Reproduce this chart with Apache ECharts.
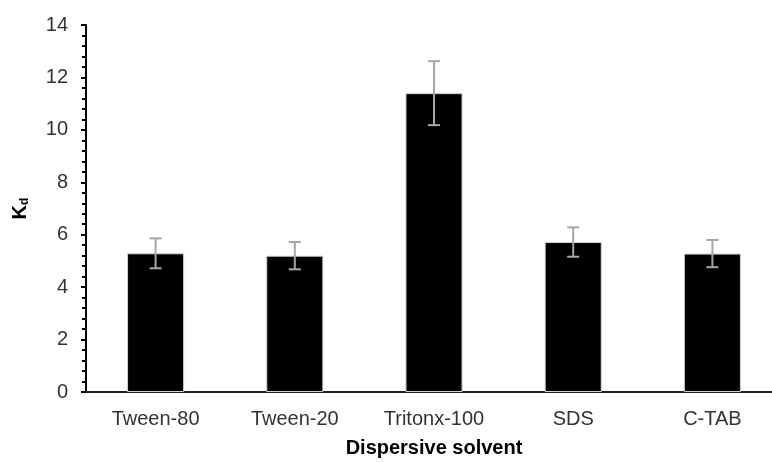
<!DOCTYPE html>
<html>
<head>
<meta charset="utf-8">
<script src="https://cdn.jsdelivr.net/npm/echarts@6/dist/echarts.min.js"></script>
<style>html,body{margin:0;padding:0;background:#fff}#c{width:772px;height:462px}</style>
</head>
<body>
<div id="c"></div>
<script>
var categories = ['Tween-80', 'Tween-20', 'Tritonx-100', 'SDS', 'C-TAB'];
var values = [5.29, 5.20, 11.40, 5.72, 5.28];
var errors = [0.57, 0.52, 1.22, 0.56, 0.52];
var yTicks = [0, 2, 4, 6, 8, 10, 12, 14];

var chart = echarts.init(document.getElementById('c'), null, {renderer: 'canvas'});
var font = 'Arial, "Liberation Sans", sans-serif';
var errData = categories.map(function (c, i) { return [i, values[i] - errors[i], values[i] + errors[i]]; });

chart.setOption({
  animation: false,
  grid: {left: 86, top: 25, width: 696, height: 367, containLabel: false, outerBoundsMode: 'none'},
  xAxis: {
    type: 'category',
    data: categories,
    name: 'Dispersive solvent',
    nameLocation: 'middle',
    nameGap: 46,
    nameTextStyle: {fontFamily: font, fontWeight: 'bold', fontSize: 20, color: '#000'},
    axisLine: {lineStyle: {color: '#222', width: 2}},
    axisTick: {show: false},
    axisLabel: {fontFamily: font, fontSize: 20, color: '#333', margin: 17},
    splitLine: {show: false}
  },
  yAxis: {
    type: 'value',
    min: yTicks[0],
    max: yTicks[yTicks.length - 1],
    interval: 2,
    name: '{k|K}{d|d}',
    nameLocation: 'middle',
    nameRotate: 90,
    nameGap: 56,
    nameTextStyle: {
      rich: {
        k: {fontFamily: font, fontWeight: 'bold', fontSize: 20, color: '#000', lineHeight: 20},
        d: {fontFamily: font, fontWeight: 'bold', fontSize: 12, color: '#000', lineHeight: 12, padding: [10, 0, 0, 0]}
      }
    },
    axisLine: {show: true, lineStyle: {color: '#000', width: 2}},
    axisTick: {show: true, inside: false, length: 5, lineStyle: {color: '#000', width: 2}},
    minorTick: {show: true, splitNumber: 5, length: 4, lineStyle: {color: '#000', width: 2}},
    axisLabel: {fontFamily: font, fontSize: 20, color: '#333', margin: 18},
    splitLine: {show: false}
  },
  series: [
    {
      type: 'bar',
      data: values,
      barWidth: '41%',
      itemStyle: {color: '#000', borderColor: '#d0d0d0', borderWidth: 1}
    },
    {
      type: 'custom',
      data: errData,
      z: 10,
      renderItem: function (params, api) {
        var x = api.value(0);
        var lo = api.coord([x, api.value(1)]);
        var hi = api.coord([x, api.value(2)]);
        var hw = 6;
        var st = {stroke: '#a6a6a6', lineWidth: 2};
        return {
          type: 'group',
          children: [
            {type: 'line', shape: {x1: lo[0], y1: lo[1], x2: hi[0], y2: hi[1]}, style: st},
            {type: 'line', shape: {x1: lo[0] - hw, y1: lo[1], x2: lo[0] + hw, y2: lo[1]}, style: st},
            {type: 'line', shape: {x1: hi[0] - hw, y1: hi[1], x2: hi[0] + hw, y2: hi[1]}, style: st}
          ]
        };
      }
    }
  ]
});
</script>
</body>
</html>
